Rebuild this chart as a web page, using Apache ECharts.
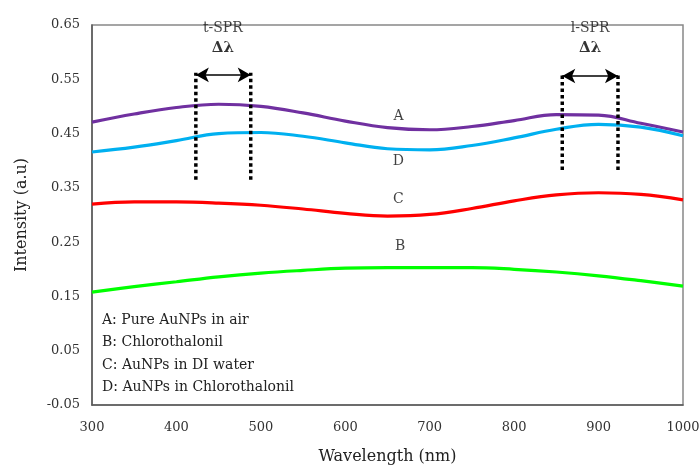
<!DOCTYPE html>
<html>
<head>
<meta charset="utf-8">
<script src="https://cdn.jsdelivr.net/npm/echarts@6/dist/echarts.min.js"></script>
<style>
  html, body { margin: 0; padding: 0; background: #fff; }
  #chart { width: 700px; height: 465px; }
</style>
</head>
<body>
<div id="chart"></div>
<script>
let wavelength = [300, 350, 400, 450, 500, 550, 600, 650, 700, 750, 800, 850, 900, 950, 1000];
let seriesA = [0.471, 0.486, 0.498, 0.504, 0.500, 0.488, 0.473, 0.461, 0.457, 0.463, 0.474, 0.485, 0.484, 0.469, 0.453];
let seriesD = [0.416, 0.425, 0.437, 0.450, 0.452, 0.445, 0.433, 0.422, 0.420, 0.428, 0.442, 0.458, 0.467, 0.462, 0.446];
let seriesC = [0.320, 0.324, 0.324, 0.322, 0.318, 0.311, 0.303, 0.298, 0.301, 0.312, 0.326, 0.337, 0.341, 0.338, 0.328];
let seriesB = [0.158, 0.168, 0.177, 0.186, 0.193, 0.198, 0.202, 0.203, 0.203, 0.203, 0.200, 0.195, 0.188, 0.179, 0.169];

// curve letters placed next to the lines
let curveLabels = [["A", 663, 0.482], ["D", 663, 0.398], ["C", 663, 0.328], ["B", 665, 0.243]];
// Δλ markers: [left x, right x, bottom y, top y]
let sprMarks = [[423, 488, 0.365, 0.562], [857, 923, 0.383, 0.560]];
let sprTitles = [["t-SPR", 455, 0.625], ["l-SPR", 890, 0.625]];
let legendLines = [
  "A: Pure AuNPs in air",
  "B: Chlorothalonil",
  "C: AuNPs in DI water",
  "D: AuNPs in Chlorothalonil",
];

const serif = "DejaVu Serif";

function pairs(ys) {
  return wavelength.map((x, i) => [x, ys[i]]);
}

function curve(name, ys, color) {
  return {
    name: name,
    type: "line",
    data: pairs(ys),
    smooth: 0.4,
    showSymbol: false,
    lineStyle: { color: color, width: 3.2 },
    z: 3,
  };
}

let chart = echarts.init(document.getElementById("chart"));

let series = [
  curve("A", seriesA, "#7030a0"),
  curve("D", seriesD, "#00b0f0"),
  curve("C", seriesC, "#ff0000"),
  curve("B", seriesB, "#00ff00"),
];

sprMarks.forEach((m) => {
  [m[0], m[1]].forEach((x) => {
    series.push({
      type: "line",
      data: [[x, m[2]], [x, m[3]]],
      showSymbol: false,
      lineStyle: { color: "#000", width: 3.5, type: [3.5, 3], cap: "butt" },
      z: 4,
      silent: true,
    });
  });
});

series.push({
  type: "line",
  data: [],
  markLine: {
    silent: true,
    symbol: ["arrow", "arrow"],
    symbolSize: [11, 13],
    label: { show: false },
    lineStyle: { color: "#000", width: 1.5, type: "solid" },
    data: sprMarks.map((m) => [{ coord: [m[0], m[3] - 0.004] }, { coord: [m[1], m[3] - 0.004] }]),
  },
});

series.push({
  type: "scatter",
  symbolSize: 0,
  data: curveLabels.map((l) => ({ value: [l[1], l[2]], name: l[0] })),
  label: {
    show: true,
    position: "inside",
    formatter: "{b}",
    color: "#111",
    fontFamily: serif,
    fontSize: 14,
  },
  silent: true,
});

series.push({
  type: "scatter",
  symbolSize: 0,
  data: sprTitles.map((l) => ({ value: [l[1], l[2]], name: l[0] })),
  label: {
    show: true,
    position: "inside",
    formatter: "{b}\n{d|Δλ}",
    color: "#111",
    fontFamily: serif,
    fontSize: 14,
    lineHeight: 20,
    rich: { d: { fontFamily: serif, fontSize: 15, fontWeight: "bold", lineHeight: 20, color: "#000" } },
  },
  silent: true,
});

let option = {
  animation: false,
  backgroundColor: "#fff",
  grid: {
    left: 92,
    right: 17,
    top: 25,
    bottom: 60,
    outerBoundsMode: "none",
    containLabel: false,
    show: true,
    borderColor: "#888",
    borderWidth: 1.5,
  },
  xAxis: {
    type: "value",
    min: 300,
    max: 1000,
    interval: 100,
    name: "Wavelength (nm)",
    nameLocation: "middle",
    nameGap: 44,
    nameTextStyle: { fontFamily: serif, fontSize: 16, color: "#222" },
    axisLine: { show: true, onZero: false, lineStyle: { color: "#595959", width: 1.5 } },
    axisTick: { show: false },
    splitLine: { show: false },
    axisLabel: {
      fontFamily: serif,
      fontSize: 13,
      color: "#333",
      margin: 16,
      formatter: function (v) { return String(v); },
    },
  },
  yAxis: {
    type: "value",
    min: -0.05,
    max: 0.65,
    interval: 0.05,
    name: "Intensity (a.u)",
    nameLocation: "middle",
    nameGap: 62,
    nameTextStyle: { fontFamily: serif, fontSize: 16, color: "#222" },
    axisLine: { show: true, onZero: false, lineStyle: { color: "#595959", width: 1.5 } },
    axisTick: { show: false },
    splitLine: { show: false },
    axisLabel: {
      fontFamily: serif,
      fontSize: 13,
      color: "#333",
      margin: 12,
      formatter: function (v) {
        let k = Math.round(v * 100);
        return Math.abs(k) % 10 === 5 ? v.toFixed(2) : "";
      },
    },
  },
  graphic: legendLines.map((t, i) => ({
    type: "text",
    left: 102,
    top: 313 + i * 22.5,
    style: { text: t, font: "14px '" + serif + "'", fill: "#222" },
    silent: true,
  })),
  series: series,
};

chart.setOption(option);
</script>
</body>
</html>
